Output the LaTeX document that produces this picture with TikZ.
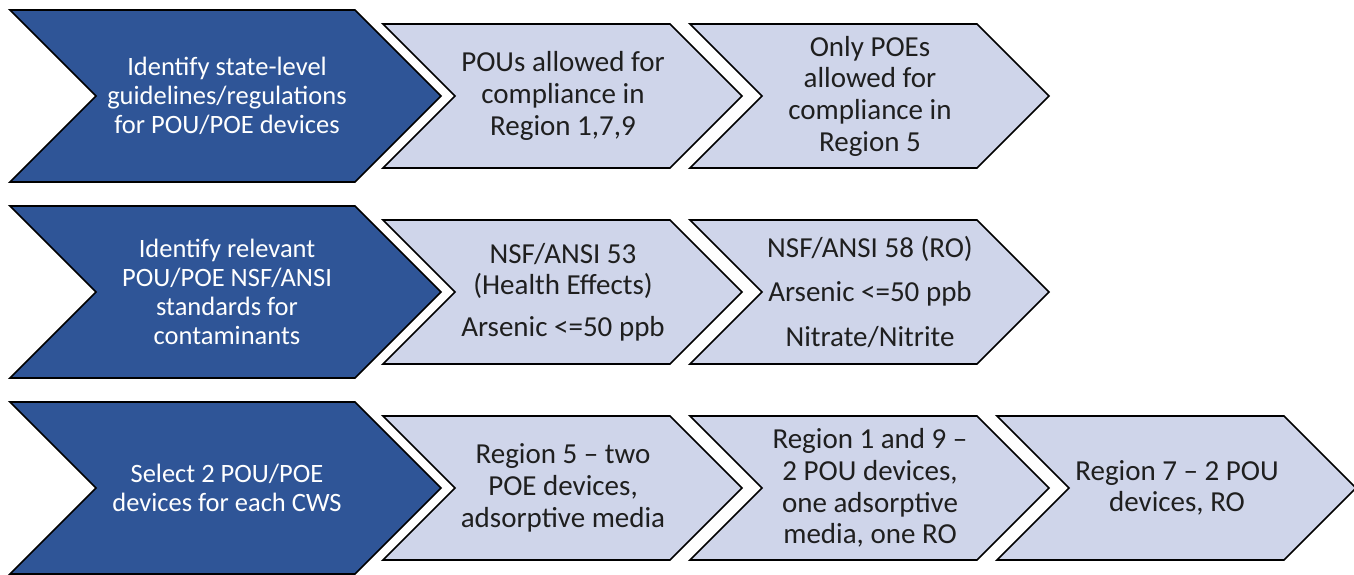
\documentclass[tikz,border=0pt]{standalone}
\usepackage{fontspec}
\setmainfont{Carlito}
\definecolor{stepblue}{HTML}{2F5597}
\definecolor{paleblue}{HTML}{CFD5EA}

\begin{document}
\begin{tikzpicture}
      [x=1pt, y=-1pt,
       darkchev/.style={fill=stepblue, draw=black, line width=1.7pt},
       lightchev/.style={fill=paleblue, draw=black, line width=1.7pt},
       darktext/.style={text=white, align=center, font=\fontsize{26.5}{29}\selectfont},
       lighttext/.style={text=black!88, align=center, font=\fontsize{29}{31.7}\selectfont}]
      \useasboundingbox (0,0) rectangle (1354,574);

      % first chevron of each row (the step)
      \foreach \c in {96, 292, 488} {
        \draw[darkchev] (10,\c-86) -- (355,\c-86) -- (441,\c) -- (355,\c+86)
        -- (10,\c+86) -- (96,\c) -- cycle;
      }

      % following chevrons (the outcomes)
      \foreach \c/\n in {96/2, 292/2, 488/3} {
        \foreach \k in {1,...,\n} {
          \pgfmathsetmacro{\l}{383+307*(\k-1)}
          \draw[lightchev] (\l,\c-72) -- ++(287,0) -- ++(72,72) -- ++(-72,72)
          -- ++(-287,0) -- ++(72,-72) -- cycle;
        }
      }

      % row 1
      \node[darktext] (state) at (227,96) {Identify state-level\\guidelines/regulations\\for POU/POE devices};
      \node[lighttext] (pou) at (563,96) {POUs allowed for\\compliance in\\Region 1,7,9};
      \node[lighttext] (poe) at (870,96) {Only POEs\\allowed for\\compliance in\\Region 5};

      % row 2
      \node[darktext] (standards) at (227,292) {Identify relevant\\POU/POE NSF/ANSI\\standards for\\contaminants};
      \node[lighttext] (nsf53) at (563,292) {NSF/ANSI 53\\(Health Effects)\\[10pt]Arsenic <=50 ppb};
      \node[lighttext] (nsf58) at (870,292) {NSF/ANSI 58 (RO)\\[13pt]Arsenic <=50 ppb\\[13pt]Nitrate/Nitrite};

      % row 3
      \node[darktext] (select) at (227,488) {Select 2 POU/POE\\devices for each CWS};
      \node[lighttext] (region5) at (563,488) {Region 5 -- two\\POE devices,\\adsorptive media};
      \node[lighttext] (region19) at (870,488) {Region 1 and 9 --\\2 POU devices,\\one adsorptive\\media, one RO};
      \node[lighttext] (region7) at (1177,488) {Region 7 -- 2 POU\\devices, RO};
    \end{tikzpicture}
\end{document}
